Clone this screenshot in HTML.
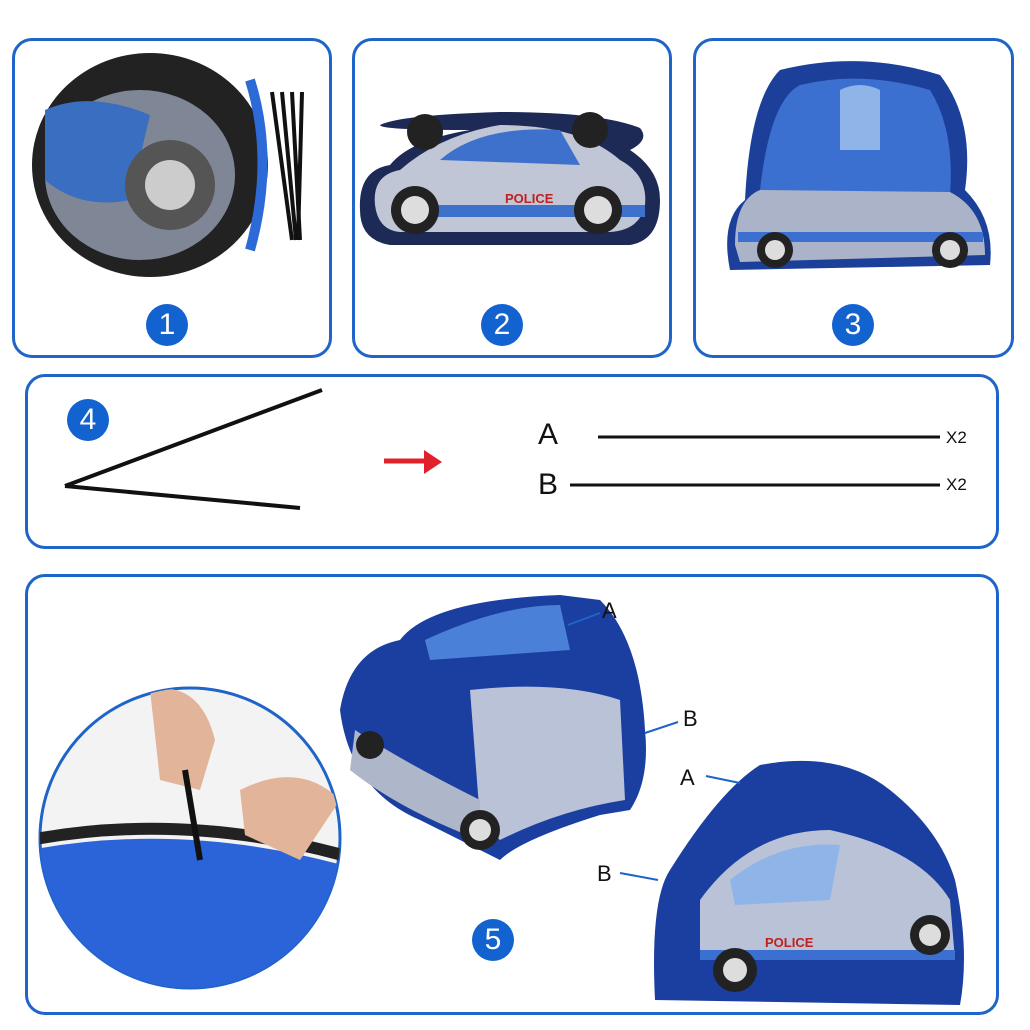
<!DOCTYPE html>
<html><head><meta charset="utf-8">
<style>
html,body{margin:0;padding:0;background:#fff;}
body{width:1030px;height:1030px;position:relative;overflow:hidden;font-family:"Liberation Sans",sans-serif;}
.p{position:absolute;border:3px solid #1f64c8;border-radius:20px;box-sizing:border-box;}
.n{position:absolute;width:42px;height:42px;border-radius:50%;background:#1262d0;color:#fff;font-size:30px;text-align:center;line-height:42px;}
.l{position:absolute;font-size:30px;color:#111;}
.s{position:absolute;font-size:17px;color:#111;}
svg{position:absolute;left:0;top:0;}
</style></head><body>
<div class="p" style="left:12px;top:38px;width:320px;height:320px"></div>
<div class="p" style="left:352px;top:38px;width:320px;height:320px"></div>
<div class="p" style="left:693px;top:38px;width:321px;height:320px"></div>
<div class="p" style="left:25px;top:374px;width:974px;height:175px"></div>
<div class="p" style="left:25px;top:574px;width:974px;height:441px"></div>

<svg width="1030" height="1030">
<!-- panel1 -->
<ellipse cx="150" cy="165" rx="118" ry="112" fill="#222"/>
<ellipse cx="140" cy="175" rx="95" ry="85" fill="#7f8796"/>
<path d="M45 110 Q90 90 150 115 L130 200 Q80 210 45 180Z" fill="#3a6ec0"/>
<circle cx="170" cy="185" r="45" fill="#555"/><circle cx="170" cy="185" r="25" fill="#ccc"/>
<path d="M250 80 Q275 160 250 250" stroke="#2c6ad8" stroke-width="10" fill="none"/>
<g stroke="#111" stroke-width="4"><line x1="272" y1="92" x2="292" y2="240"/><line x1="282" y1="92" x2="296" y2="240"/><line x1="292" y1="92" x2="300" y2="240"/><line x1="302" y1="92" x2="298" y2="240"/></g>
<!-- panel2 -->
<path d="M360 210 Q358 170 390 165 Q410 140 470 130 Q380 130 380 125 Q400 115 500 112 Q600 112 640 128 Q650 140 630 150 Q660 170 660 200 Q660 240 630 245 L390 245 Q360 240 360 210Z" fill="#1c2a55"/>
<path d="M375 205 Q372 175 400 170 Q440 135 500 125 Q580 125 620 160 Q648 175 645 205 Q640 230 610 232 L400 232 Q378 230 375 205Z" fill="#c0c6d6"/>
<path d="M440 160 Q480 125 560 130 L580 165 Z" fill="#3d71cc"/>
<rect x="395" y="205" width="250" height="12" fill="#3d71cc"/>
<circle cx="415" cy="210" r="24" fill="#222"/><circle cx="415" cy="210" r="14" fill="#ddd"/>
<circle cx="598" cy="210" r="24" fill="#222"/><circle cx="598" cy="210" r="14" fill="#ddd"/>
<circle cx="590" cy="130" r="18" fill="#222"/><circle cx="425" cy="132" r="18" fill="#222"/>
<text x="505" y="203" font-size="13" font-weight="bold" fill="#c02020">POLICE</text>
<!-- panel3 -->
<path d="M730 270 Q720 220 745 200 Q750 100 780 70 Q860 50 940 75 Q975 120 965 190 Q995 220 990 265 Z" fill="#1c3f9a"/>
<path d="M760 190 Q770 100 800 85 Q860 70 930 90 Q955 130 950 195 Z" fill="#3b6fd0"/>
<path d="M735 245 Q735 200 760 190 L950 192 Q985 210 985 255 L740 262Z" fill="#aab3c7"/>
<rect x="738" y="232" width="245" height="10" fill="#3b6fd0"/>
<circle cx="775" cy="250" r="18" fill="#222"/><circle cx="775" cy="250" r="10" fill="#ddd"/>
<circle cx="950" cy="250" r="18" fill="#222"/><circle cx="950" cy="250" r="10" fill="#ddd"/>
<path d="M840 90 Q860 80 880 90 L880 150 L840 150Z" fill="#8fb4e8"/>
<!-- panel4 -->
<g stroke="#111" stroke-width="4"><line x1="65" y1="486" x2="322" y2="390"/><line x1="65" y1="486" x2="300" y2="508"/></g>
<path d="M384 461 L428 461" stroke="#e0202a" stroke-width="5"/><path d="M424 450 L442 462 L424 474Z" fill="#e0202a"/>
<line x1="598" y1="437" x2="940" y2="437" stroke="#111" stroke-width="3"/>
<line x1="570" y1="485" x2="940" y2="485" stroke="#111" stroke-width="3"/>
<!-- panel5 circle -->
<defs><clipPath id="c"><circle cx="190" cy="838" r="150"/></clipPath></defs>
<circle cx="190" cy="838" r="150" fill="#f3f3f3" stroke="#1f64c8" stroke-width="3"/>
<g clip-path="url(#c)">
<path d="M30 850 Q190 820 360 870 L360 1000 L30 1000Z" fill="#2b63d8"/>
<path d="M30 840 Q190 810 360 860" stroke="#222" stroke-width="12" fill="none"/>
<path d="M150 690 Q200 680 215 740 L200 790 L160 780 Z" fill="#e2b49a"/>
<path d="M240 790 Q300 760 340 800 L300 860 L245 835Z" fill="#e2b49a"/>
<line x1="185" y1="770" x2="200" y2="860" stroke="#111" stroke-width="6"/>
</g>
<!-- tent1 -->
<path d="M340 710 Q350 650 400 640 Q430 600 560 595 L600 600 Q640 640 645 730 Q650 780 630 810 L600 815 Q520 840 500 860 L420 820 Q350 790 340 710Z" fill="#1b3fa0"/>
<path d="M425 640 Q500 605 560 605 L570 650 L430 660Z" fill="#4a80d8"/>
<path d="M470 690 Q560 680 620 700 L625 800 Q560 810 500 840 L480 820Z" fill="#b9c2d6"/>
<path d="M355 730 Q400 760 480 800 L480 840 Q400 810 350 770Z" fill="#aeb6c9"/>
<circle cx="480" cy="830" r="20" fill="#222"/><circle cx="480" cy="830" r="11" fill="#ddd"/>
<circle cx="370" cy="745" r="14" fill="#222"/>
<line x1="568" y1="625" x2="600" y2="613" stroke="#1f64c8" stroke-width="2"/>
<line x1="645" y1="733" x2="678" y2="722" stroke="#1f64c8" stroke-width="2"/>
<!-- tent2 -->
<path d="M655 1000 Q650 900 670 870 Q720 790 760 765 Q840 750 890 790 Q940 830 955 880 Q970 950 960 1005Z" fill="#1b3fa0"/>
<path d="M700 900 Q750 830 830 830 Q920 850 950 900 L955 960 L700 960Z" fill="#b9c2d6"/>
<path d="M730 880 Q780 840 840 845 L830 900 L735 905Z" fill="#8fb4e8"/>
<rect x="700" y="950" width="255" height="10" fill="#3b6fd0"/>
<circle cx="735" cy="970" r="22" fill="#222"/><circle cx="735" cy="970" r="12" fill="#ddd"/>
<circle cx="930" cy="935" r="20" fill="#222"/><circle cx="930" cy="935" r="11" fill="#ddd"/>
<text x="765" y="947" font-size="13" font-weight="bold" fill="#c02020">POLICE</text>
<line x1="706" y1="776" x2="740" y2="783" stroke="#1f64c8" stroke-width="2"/>
<line x1="620" y1="873" x2="658" y2="880" stroke="#1f64c8" stroke-width="2"/>
</svg>

<div class="n" style="left:146px;top:304px">1</div>
<div class="n" style="left:481px;top:304px">2</div>
<div class="n" style="left:832px;top:304px">3</div>
<div class="n" style="left:67px;top:399px">4</div>
<div class="n" style="left:472px;top:919px">5</div>

<div class="l" style="left:538px;top:418px">A</div>
<div class="l" style="left:538px;top:468px">B</div>
<div class="s" style="left:946px;top:428px">X2</div>
<div class="s" style="left:946px;top:475px">X2</div>
<div class="s" style="left:602px;top:598px;font-size:22px">A</div>
<div class="s" style="left:683px;top:706px;font-size:22px">B</div>
<div class="s" style="left:680px;top:765px;font-size:22px">A</div>
<div class="s" style="left:597px;top:861px;font-size:22px">B</div>
</body></html>
